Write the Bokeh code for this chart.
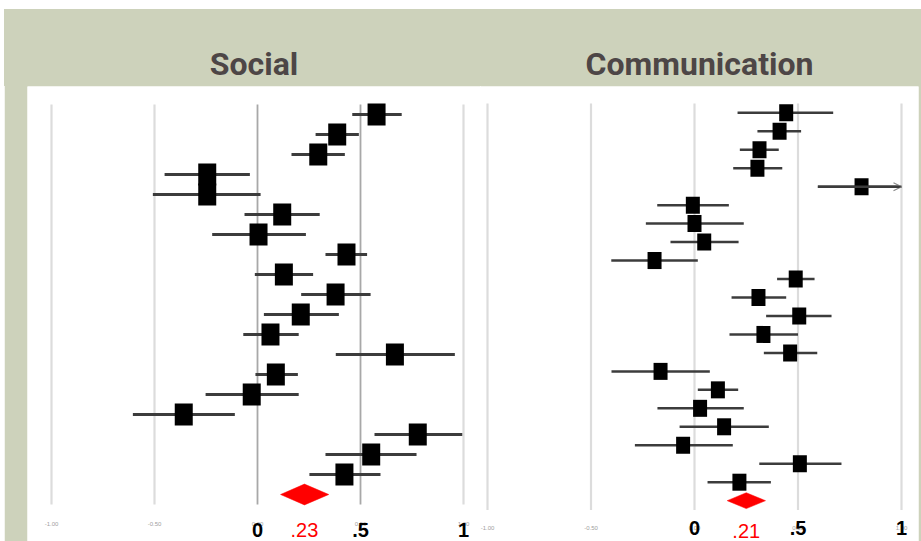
from bokeh.plotting import figure
from bokeh.layouts import row
from bokeh.models import Range1d, Arrow, OpenHead
from bokeh.core.properties import value
from bokeh.embed import file_html
from bokeh.resources import INLINE

# ---------------- data ----------------
ticks = [-1.0, -0.5, 0.0, 0.5, 1.0]
small_tick_labels = ["-1.00", "-0.50", "0.00", "0.50", "1.00"]
big_ticks = [0.0, 0.5, 1.0]
big_tick_labels = ["0", ".5", "1"]

social_est = [0.578, 0.387, 0.295, -0.244, -0.244, 0.120, 0.005, 0.432, 0.128, 0.379,
              0.210, 0.063, 0.667, 0.089, -0.028, -0.358, 0.778, 0.552, 0.422]
social_lo = [0.460, 0.282, 0.165, -0.451, -0.508, -0.063, -0.220, 0.330, -0.013, 0.212,
             0.031, -0.069, 0.380, -0.010, -0.252, -0.605, 0.568, 0.330, 0.252]
social_hi = [0.700, 0.492, 0.424, -0.037, 0.015, 0.302, 0.235, 0.532, 0.270, 0.549,
             0.395, 0.200, 0.958, 0.196, 0.200, -0.110, 0.994, 0.772, 0.597]
social_pooled = [0.112, 0.228, 0.346]  # lo, est, hi
social_pooled_label = ".23"

comm_est = [0.443, 0.411, 0.314, 0.304, 0.807, -0.008, 0.000, 0.047, -0.193, 0.489, 0.309,
            0.506, 0.333, 0.462, -0.164, 0.113, 0.027, 0.143, -0.055, 0.509, 0.217]
comm_lo = [0.208, 0.304, 0.219, 0.187, 0.596, -0.180, -0.235, -0.116, -0.402, 0.399, 0.179,
           0.346, 0.169, 0.335, -0.401, 0.016, -0.179, -0.072, -0.288, 0.313, 0.063]
comm_hi = [0.670, 0.515, 0.407, 0.424, 1.050, 0.166, 0.238, 0.213, 0.016, 0.580, 0.443,
           0.662, 0.500, 0.593, 0.074, 0.211, 0.238, 0.359, 0.185, 0.710, 0.369]
comm_pooled = [0.158, 0.250, 0.343]
comm_pooled_label = ".21"

SAGE = "#CDD2BB"
TITLE_COLOR = "#4D4646"
FIG_H = 532
BORDER_TOP = 77


def panel(title, est, lo, hi, pooled, pooled_label, width, border_left, border_right,
          x_range, y_range, sq_w, sq_h, ci_w, diamond_h, dark_grid,
          small_dy, big_dy, red_dy):
    n = len(est)
    rows = list(range(n))
    p = figure(width=width, height=FIG_H, title=title,
               x_range=Range1d(*x_range), y_range=Range1d(*y_range),
               x_axis_location=None, y_axis_location=None,
               output_backend="svg", toolbar_location=None,
               min_border_left=border_left, min_border_right=border_right,
               min_border_top=BORDER_TOP, min_border_bottom=0)
    p.grid.visible = False
    p.outline_line_color = None
    p.border_fill_color = SAGE
    p.background_fill_color = "white"
    p.title.align = "center"
    p.title.text_font = "Roboto"
    p.title.text_font_size = "32px"
    p.title.text_font_style = "bold"
    p.title.text_color = TITLE_COLOR
    p.title.standoff = 7

    top, bottom = -0.5, n + 0.5
    light = [t for t in ticks if t not in dark_grid]
    p.segment(x0=light, y0=[top] * len(light), x1=light, y1=[bottom] * len(light),
              line_color="#DCDCDC", line_width=2.2)
    if dark_grid:
        p.segment(x0=dark_grid, y0=[top] * len(dark_grid), x1=dark_grid,
                  y1=[bottom] * len(dark_grid), line_color="#A8A8A8", line_width=1.8)

    xmax = ticks[-1]
    hi_c = [min(h, xmax) for h in hi]
    p.segment(x0=lo, y0=rows, x1=hi_c, y1=rows, line_color="#3C3C3C", line_width=ci_w)
    for i in range(n):
        if hi[i] > xmax:
            p.add_layout(Arrow(x_start=lo[i], y_start=i, x_end=xmax, y_end=i,
                               line_color="#3C3C3C", line_width=ci_w,
                               end=OpenHead(size=8, line_color="#8A8A8A", line_width=1.2)))
    p.rect(x=est, y=rows, width=sq_w, height=sq_h, width_units="screen",
           height_units="screen", fill_color="black", line_color=None)

    plo, pest, phi = pooled
    r = n
    p.patch(x=[plo, pest, phi, pest], y=[r, r - diamond_h, r, r + diamond_h],
            fill_color="red", line_color="red", line_width=0.5)

    p.text(x=ticks, y=[n + small_dy] * len(ticks), text=small_tick_labels,
           text_font=value("Liberation Sans"), text_font_size="6px",
           text_color="#A0A0A0", text_align="center", text_baseline="middle")
    p.text(x=big_ticks, y=[n + big_dy] * len(big_ticks), text=big_tick_labels,
           text_font=value("Liberation Sans"), text_font_size="20px",
           text_font_style="bold", text_color="black",
           text_align="center", text_baseline="middle")
    p.text(x=[pest], y=[n + red_dy], text=[pooled_label],
           text_font=value("Liberation Sans"), text_font_size="20px",
           text_color="red", text_align="center", text_baseline="middle")
    return p


FRAME_TOP = 9 + BORDER_TOP      # 86 px in the window
FRAME_BOT = 9 + FIG_H           # 541 px

# left: row i at 114 + 20*i px, x px = 257 + 206*v, frame x 27..480
p1 = panel("Social", social_est, social_lo, social_hi, social_pooled, social_pooled_label,
           width=476, border_left=23, border_right=0,
           x_range=((27 - 257) / 206, (480 - 257) / 206),
           y_range=((FRAME_BOT - 114) / 20, (FRAME_TOP - 114) / 20),
           sq_w=18, sq_h=22, ci_w=3, diamond_h=0.52, dark_grid=[0.0, 0.5],
           small_dy=1.45, big_dy=1.75, red_dy=1.75)

# right: row i at 112.3 + 18.47*i px, x px = 694 + 207*v, frame x 480..918
p2 = panel("Communication", comm_est, comm_lo, comm_hi, comm_pooled, comm_pooled_label,
           width=441, border_left=0, border_right=3,
           x_range=((480 - 694) / 207, (918 - 694) / 207),
           y_range=((FRAME_BOT - 112.3) / 18.47, (FRAME_TOP - 112.3) / 18.47),
           sq_w=14, sq_h=17, ci_w=2.5, diamond_h=0.43, dark_grid=[],
           small_dy=1.5, big_dy=1.5, red_dy=1.62)

layout = row(p1, p2)
layout.margin = (9, 0, 0, 4)
layout.styles = {"background": f"linear-gradient(to bottom, {SAGE} 0px, {SAGE} {BORDER_TOP}px, white {BORDER_TOP}px, white 100%)"}
open("out.html", "w").write(file_html(layout, INLINE))
